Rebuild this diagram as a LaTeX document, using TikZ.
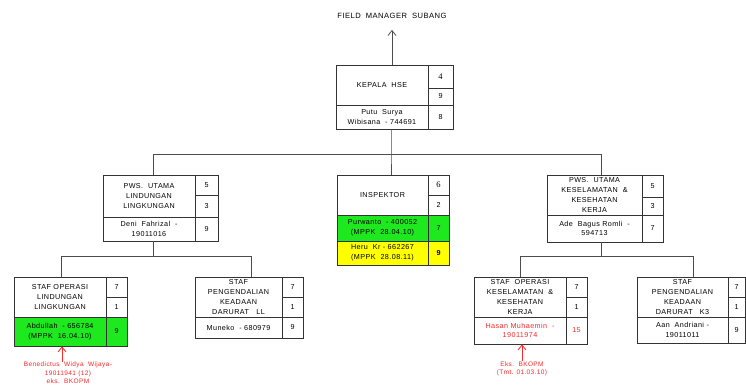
\documentclass[tikz,border=0pt]{standalone}
\usepackage{fontspec}
\setmainfont{Liberation Sans}[LetterSpace=6]
\newfontfamily\numserif{Liberation Serif}
\usetikzlibrary{fit,arrows.meta,calc}
\definecolor{cgreen}{RGB}{30,232,30}
\definecolor{cyellow}{RGB}{255,255,0}
\definecolor{cred}{RGB}{250,40,40}
\tikzset{
 cellbox/.style={draw=black!80, line width=0.7pt, inner sep=0pt},
 celltext/.style={inner sep=0pt, align=center, font=\fontsize{7.2}{9.7}\selectfont},
 conn/.style={draw=black!70, line width=0.8pt},
 uparrow/.style={-{Straight Barb[length=5pt,width=8pt]}},
 note/.style={text=cred, align=center, font=\fontsize{6.5}{8.6}\selectfont, inner sep=0pt},
}
\newcommand\mkcell[7][]{%
 \node[cellbox,#1,fit={(#3,#4)(#5,#6)}] (#2) {};
 \node[celltext,#1,fill=none,draw=none] (#2t) at (#2.center) {#7};}
\begin{document}
\begin{tikzpicture}[x=1pt,y=-1pt]
\path[fill=white,use as bounding box] (0,0) rectangle (746,385);

% top label
\node[celltext,font=\fontsize{7.6}{9}\selectfont] (fm) at (392,16) {FIELD~~MANAGER~~SUBANG};

% KEPALA HSE
\mkcell{kepT}{336}{65}{428}{105}{KEPALA~~HSE}
\mkcell{kepA}{428}{65}{453}{88}{\numserif\fontsize{8.5}{9}\selectfont 4}
\mkcell{kepB}{428}{88}{453}{105}{9}
\mkcell{kepP}{336}{105}{428}{129}{Putu~~Surya\\Wibisana~~- 744691}
\mkcell{kepC}{428}{105}{453}{129}{8}

% PWS UTAMA LINDUNGAN
\mkcell{pwslT}{103}{175}{195}{217}{PWS.~~UTAMA\\LINDUNGAN\\LINGKUNGAN}
\mkcell{pwslA}{195}{175}{218}{195}{5}
\mkcell{pwslB}{195}{195}{218}{217}{3}
\mkcell{pwslP}{103}{217}{195}{241}{Deni~~Fahrizal~~-\\19011016}
\mkcell{pwslC}{195}{217}{218}{241}{9}

% INSPEKTOR
\mkcell{inspT}{337}{175}{428}{215}{INSPEKTOR}
\mkcell{inspA}{428}{175}{449}{195}{\numserif\fontsize{8.5}{9}\selectfont 6}
\mkcell{inspB}{428}{195}{449}{215}{2}
\mkcell[fill=cgreen]{inspP}{337}{215}{428}{241}{Purwanto~~- 400052\\(MPPK~~28.04.10)}
\mkcell[fill=cgreen]{inspC}{428}{215}{449}{241}{7}
\mkcell[fill=cyellow]{inspQ}{337}{241}{428}{265}{Heru~~Kr - 662267\\(MPPK~~28.08.11)}
\mkcell[fill=cyellow]{inspD}{428}{241}{449}{265}{\bfseries 9}

% PWS UTAMA K3
\mkcell{pwskT}{547}{175}{642}{215}{PWS.~~UTAMA\\KESELAMATAN~~\&\\KESEHATAN\\KERJA}
\mkcell{pwskA}{642}{175}{663}{197}{5}
\mkcell{pwskB}{642}{197}{663}{215}{3}
\mkcell{pwskP}{547}{215}{642}{242}{Ade~~Bagus Romli~~-\\594713}
\mkcell{pwskC}{642}{215}{663}{242}{7}

% STAF OPERASI LINDUNGAN
\mkcell{solT}{14}{277}{106}{317}{STAF OPERASI\\LINDUNGAN\\LINGKUNGAN}
\mkcell{solA}{106}{277}{127}{297}{7}
\mkcell{solB}{106}{297}{127}{317}{1}
\mkcell[fill=cgreen]{solP}{14}{317}{106}{346}{Abdullah~~- 656784\\(MPPK~~16.04.10)}
\mkcell[fill=cgreen]{solC}{106}{317}{127}{346}{9}

% STAF PENGENDALIAN LL
\mkcell{spllT}{195}{277}{282}{317}{STAF\\PENGENDALIAN\\KEADAAN\\DARURAT~~~LL}
\mkcell{spllA}{282}{277}{303}{297}{7}
\mkcell{spllB}{282}{297}{303}{317}{1}
\mkcell{spllP}{195}{317}{282}{338}{Muneko~~- 680979}
\mkcell{spllC}{282}{317}{303}{338}{9}

% STAF OPERASI K3
\mkcell{sokT}{474}{277}{566}{317}{STAF~~OPERASI\\KESELAMATAN~~\&\\KESEHATAN\\KERJA}
\mkcell{sokA}{566}{277}{587}{297}{7}
\mkcell{sokB}{566}{297}{587}{317}{1}
\mkcell[text=cred]{sokP}{474}{317}{566}{344}{Hasan Muhaemin~~-\\19011974}
\mkcell[text=cred]{sokC}{566}{317}{587}{344}{15}

% STAF PENGENDALIAN K3
\mkcell{spkT}{637}{277}{728}{317}{STAF\\PENGENDALIAN\\KEADAAN\\DARURAT~~~K3}
\mkcell{spkA}{728}{277}{745}{297}{7}
\mkcell{spkB}{728}{297}{745}{317}{1}
\mkcell{spkP}{637}{317}{728}{343}{Aan~~Andriani -\\19011011}
\mkcell{spkC}{728}{317}{745}{343}{9}

% connectors level 1
\draw[conn,uparrow,shorten >=11pt] (kepT.north -| fm) -- (fm.south);
\coordinate (b1) at (391,154);
\coordinate (b1L) at (153,154);
\coordinate (b1R) at (601,154);
\draw[conn] (kepP.south -| b1) -- (b1) -- (inspT.north -| b1);
\draw[conn] (pwslT.north -| b1L) -- (b1L) -- (b1R) -- (pwskT.north -| b1R);

% connectors level 2
\coordinate (b2) at (153,256);
\coordinate (b2L) at (61,256);
\coordinate (b2R) at (251,256);
\draw[conn] (pwslP.south -| b2) -- (b2);
\draw[conn] (solT.north -| b2L) -- (b2L) -- (b2R) -- (spllT.north -| b2R);
\coordinate (b3) at (601,256);
\coordinate (b3L) at (520,256);
\coordinate (b3R) at (693,256);
\draw[conn] (pwskP.south -| b3) -- (b3);
\draw[conn] (sokT.north -| b3L) -- (b3L) -- (b3R) -- (spkT.north -| b3R);

% red notes
\node[note] (n1) at (68,373) {Benedictus~~Widya~~Wijaya-\\19011941 (12)\\eks.~~BKOPM};
\coordinate (a1) at (62,360);
\draw[conn,draw=cred,uparrow] (n1.north -| a1) -- (solP.south -| a1);
\node[note] (n2) at (522,369) {Eks.~~BKOPM\\(Tmt. 01.03.10)};
\coordinate (a2) at (522,360);
\draw[conn,draw=cred,uparrow] (n2.north -| a2) -- (sokP.south -| a2);
\end{tikzpicture}
\end{document}
